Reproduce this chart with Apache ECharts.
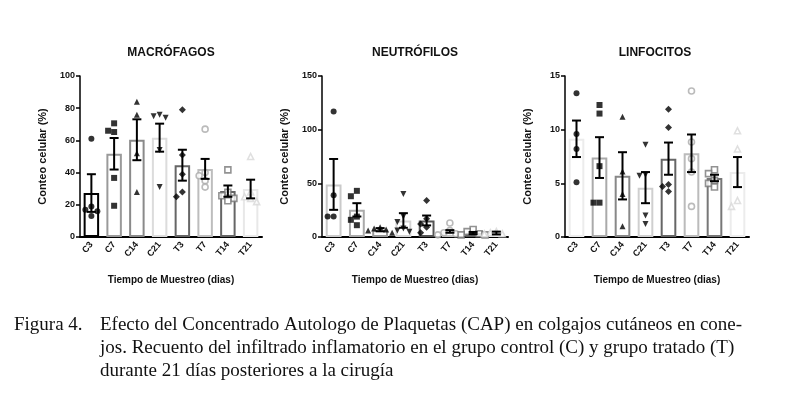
<!DOCTYPE html>
<html>
<head>
<meta charset="utf-8">
<script src="https://cdn.jsdelivr.net/npm/echarts@6/dist/echarts.min.js"></script>
<style>
html, body { margin: 0; padding: 0; background: #fff; }
#chart { width: 793px; height: 399px; }
</style>
</head>
<body>
<div id="chart"></div>
<script>
// categorias (C = control, T = tratado)
const categories = ['C3', 'C7', 'C14', 'C21', 'T3', 'T7', 'T14', 'T21'];

// MACROFAGOS
const macroMean = [27.3, 51.7, 60.4, 61.7, 44.6, 42.3, 28.5, 29.8];
const macroSem = [11.7, 9.8, 12.7, 8.7, 9.6, 6.2, 3.5, 5.8];
const macroPoints = [
    [61, 19, 17, 13, 16],
    [70.6, 65.2, 66, 36.7, 19.4],
    [84, 76, 52, 28],
    [76, 75, 74, 54, 31],
    [79, 51, 39, 28, 25],
    [67, 40, 38, 35, 31],
    [41.7, 27.7, 25.6, 24, 22.5],
    [50, 28, 25, 24, 22]
];

// NEUTROFILOS
const neutroMean = [49, 25.3, 6.8, 15.4, 15.4, 5.2, 3.7, 3.7];
const neutroSem = [23.7, 6.2, 1.5, 6.8, 4.6, 1.2, 1.0, 1.3];
const neutroPoints = [
    [117, 39, 19, 19],
    [43, 38, 19, 16, 11],
    [9, 8, 7, 6, 4],
    [40, 19, 14, 8, 6, 5],
    [34, 17, 12, 9, 4],
    [13, 6, 4, 3, 2],
    [7, 5, 3, 2, 2],
    [5, 4, 3, 3]
];

// LINFOCITOS
const linfoMean = [9.15, 7.4, 5.7, 4.6, 7.3, 7.8, 5.5, 6.05];
const linfoSem = [1.7, 1.9, 2.2, 1.45, 1.5, 1.75, 0.3, 1.4];
const linfoPoints = [
    [13.4, 9.6, 8.2, 5.1],
    [12.3, 11.5, 6.6, 3.2, 3.2],
    [11.2, 6.1, 4.0, 1.0],
    [8.6, 5.8, 5.7, 2.0, 1.2],
    [11.9, 10.2, 4.9, 4.7, 4.25],
    [13.6, 8.85, 7.3, 6.05, 2.85],
    [6.27, 5.9, 5.28, 5.0, 4.66],
    [9.9, 8.2, 3.4, 2.85]
];

const titles = ['MACRÓFAGOS', 'NEUTRÓFILOS', 'LINFOCITOS'];
const yMax = [100, 150, 15];
const yInterval = [20, 50, 5];

// estilos
const font = 'Liberation Sans, Arial, sans-serif';
const barBorders = [
    ['#000', '#9a9a9a', '#8a8a8a', '#dcdcdc', '#666', '#bdbdbd', '#666', '#e8e8e8'],
    ['#cacaca', '#aaa', '#999', '#d4d4d4', '#555', '#c2c2c2', '#5a5a5a', '#e8e8e8'],
    ['#ececec', '#aaa', '#888', '#cfcfcf', '#666', '#bbb', '#777', '#ececec']
];
const downTri = 'path://M0,0 L10,0 L5,9 Z';
const symbols = ['circle', 'rect', 'triangle', downTri, 'diamond', 'circle', 'rect', 'triangle'];
const pointColors = ['#000', '#000', '#000', '#000', '#000', '#aaa', '#777', '#d8d8d8'];
const grids = [
    { left: 80, top: 76, width: 182, height: 161 },
    { left: 322, top: 76, width: 186, height: 161 },
    { left: 565, top: 76, width: 184, height: 161 }
];

const panels = [
    { mean: macroMean, sem: macroSem, points: macroPoints },
    { mean: neutroMean, sem: neutroSem, points: neutroPoints },
    { mean: linfoMean, sem: linfoSem, points: linfoPoints }
];

// separa horizontalmente los puntos que se solapan (como en GraphPad)
function spread (vals, pxPerUnit) {
    const slots = [0, -6, 6, -12, 12];
    const placed = [];
    return vals.map(v => {
        for (const s of slots) {
            const clash = placed.some(p => p.s === s && Math.abs(p.v - v) * pxPerUnit < 6);
            if (!clash) {
                placed.push({ v: v, s: s });
                return s;
            }
        }
        return 0;
    });
}

const xAxis = [];
const yAxis = [];
const series = [];

panels.forEach((p, k) => {
    xAxis.push({
        type: 'category',
        gridIndex: k,
        data: categories,
        name: 'Tiempo de Muestreo (dias)',
        nameLocation: 'middle',
        nameGap: 38,
        nameTextStyle: { fontFamily: font, fontWeight: 'bold', fontSize: 10, color: '#111' },
        axisLine: { lineStyle: { color: '#000', width: 2 } },
        axisTick: { alignWithLabel: true, length: 4, lineStyle: { color: '#000', width: 1.5 } },
        axisLabel: { rotate: 50, margin: 6, fontFamily: font, fontWeight: 'bold', fontSize: 9, color: '#111' }
    });
    yAxis.push({
        type: 'value',
        gridIndex: k,
        min: 0,
        max: yMax[k],
        interval: yInterval[k],
        name: 'Conteo celular (%)',
        nameLocation: 'middle',
        nameRotate: 90,
        nameGap: 32,
        nameTextStyle: { fontFamily: font, fontWeight: 'bold', fontSize: 11, color: '#111' },
        splitLine: { show: false },
        axisLine: { show: true, lineStyle: { color: '#000', width: 1.5 } },
        axisTick: { show: true, length: 4, lineStyle: { color: '#000', width: 1.5 } },
        axisLabel: { margin: 5, fontFamily: font, fontWeight: 'bold', fontSize: 9, color: '#111' }
    });

    series.push({
        type: 'bar',
        xAxisIndex: k,
        yAxisIndex: k,
        barWidth: '68%',
        data: p.mean.map((v, i) => ({
            value: v,
            itemStyle: { color: '#fff', borderColor: barBorders[k][i], borderWidth: 2 }
        })),
        z: 2
    });

    const pxPerUnit = grids[k].height / yMax[k];
    p.points.forEach((vals, i) => {
        const offs = spread(vals, pxPerUnit);
        const empty = i >= 5;
        series.push({
            type: 'scatter',
            xAxisIndex: k,
            yAxisIndex: k,
            symbol: symbols[i],
            symbolSize: i === 4 ? 7 : 6,
            data: vals.map((v, j) => ({ value: [i, v], symbolOffset: [offs[j], 0] })),
            itemStyle: empty
                ? { color: '#fff', borderColor: pointColors[i], borderWidth: 1.6 }
                : { color: pointColors[i] },
            z: 3
        });
    });

    series.push({
        type: 'custom',
        xAxisIndex: k,
        yAxisIndex: k,
        data: p.mean.map((m, i) => [i, m, p.sem[i]]),
        renderItem (params, api) {
            const x = api.value(0);
            const m = api.value(1);
            const s = api.value(2);
            const top = api.coord([x, m + s]);
            const bot = api.coord([x, m - s]);
            const h = 4.5;
            const st = { stroke: '#000', lineWidth: 2 };
            return {
                type: 'group',
                children: [
                    { type: 'line', shape: { x1: top[0], y1: top[1], x2: bot[0], y2: bot[1] }, style: st },
                    { type: 'line', shape: { x1: top[0] - h, y1: top[1], x2: top[0] + h, y2: top[1] }, style: st },
                    { type: 'line', shape: { x1: bot[0] - h, y1: bot[1], x2: bot[0] + h, y2: bot[1] }, style: st }
                ]
            };
        },
        z: 4
    });
});

const titleX = [171, 415, 655];
const graphic = titles.map((t, k) => ({
    type: 'text',
    x: titleX[k],
    y: 47,
    style: { text: t, fontFamily: font, fontWeight: 'bold', fontSize: 12, fill: '#111', align: 'center' }
}));

const serif = 'Liberation Serif, Times New Roman, serif';
const caption = [
    { text: 'Figura 4.', x: 14, y: 316 },
    { text: 'Efecto del Concentrado Autologo de Plaquetas (CAP) en colgajos cutáneos en cone-', x: 100, y: 316 },
    { text: 'jos. Recuento del infiltrado inflamatorio en el grupo control (C) y grupo tratado (T)', x: 100, y: 339 },
    { text: 'durante 21 días posteriores a la cirugía', x: 100, y: 362 }
];
caption.forEach(c => {
    graphic.push({
        type: 'text',
        x: c.x,
        y: c.y,
        style: { text: c.text, fontFamily: serif, fontSize: 19, fill: '#111' }
    });
});

const chart = echarts.init(document.getElementById('chart'));
chart.setOption({
    animation: false,
    backgroundColor: '#fff',
    grid: grids,
    xAxis: xAxis,
    yAxis: yAxis,
    series: series,
    graphic: graphic
});
</script>
</body>
</html>
